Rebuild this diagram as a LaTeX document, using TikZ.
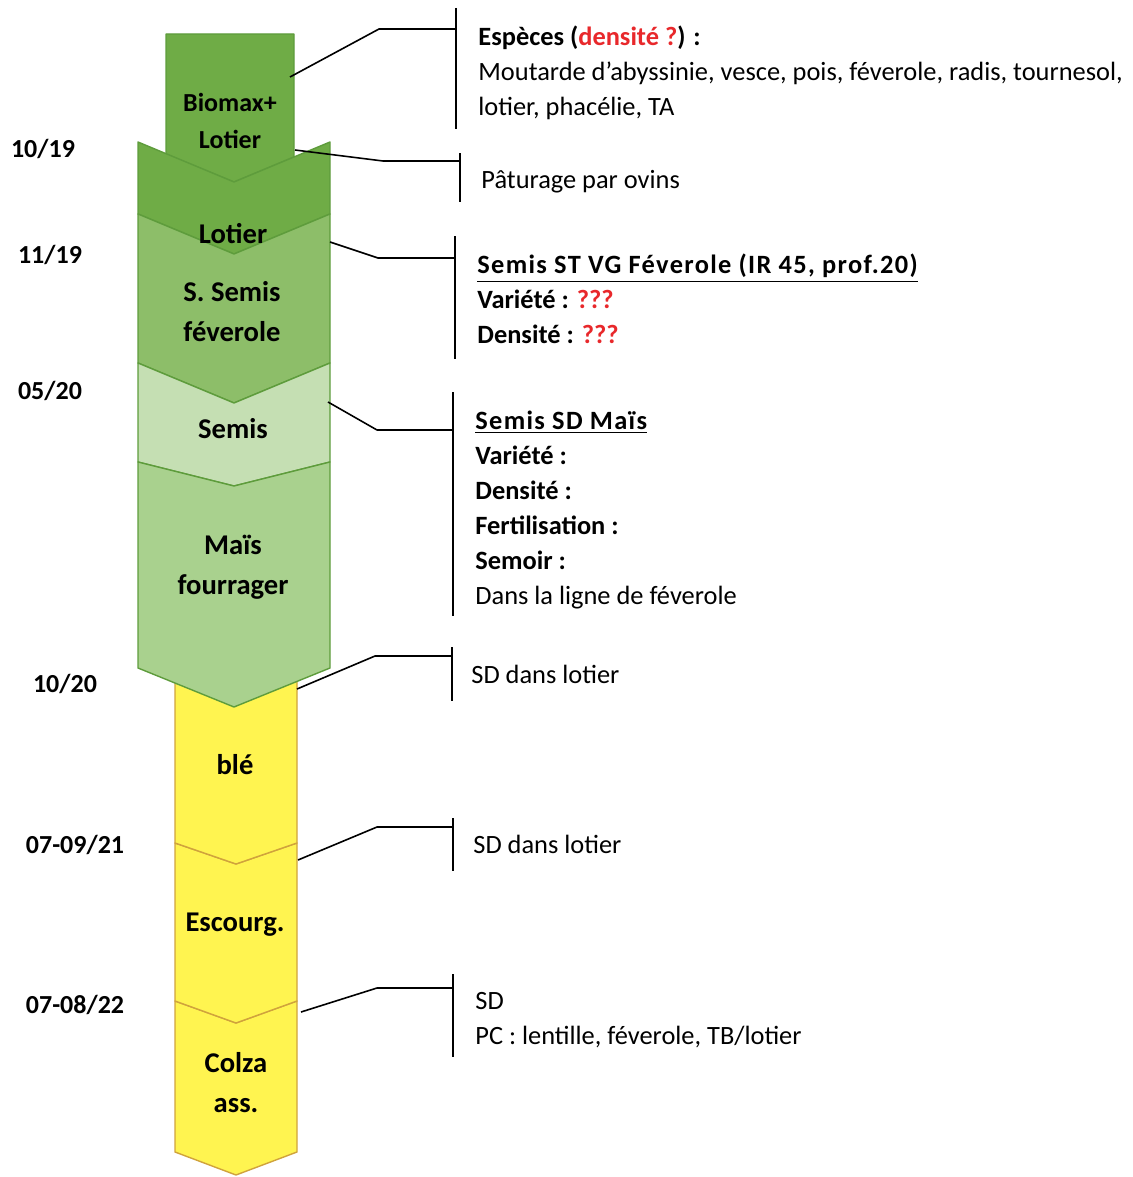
\documentclass[tikz,border=0pt]{standalone}
\usepackage{fontspec}
\setmainfont{Carlito}
\usepackage{tikz}
\usepackage{xcolor}
\definecolor{greenA}{HTML}{6FAC46}
\definecolor{greenB}{HTML}{8DBE69}
\definecolor{greenC}{HTML}{C5DFB3}
\definecolor{greenD}{HTML}{A9D18E}
\definecolor{cropline}{HTML}{5E9C3C}
\definecolor{cereal}{HTML}{FFF450}
\definecolor{cerealline}{HTML}{D0A33C}
\definecolor{notered}{HTML}{E8282B}
\newcommand{\headline}[1]{{\bfseries\addfontfeature{LetterSpace=5}\underline{#1}}}

\begin{document}
\begin{tikzpicture}[
  x=0.5pt, y=-0.5pt,
  crop/.style={draw=cropline, line width=0.7pt, line join=round},
  cerealbox/.style={draw=cerealline, fill=cereal, line width=0.7pt, line join=round},
  lbl/.style={font=\bfseries\fontsize{14.3}{20}\selectfont, align=center, inner sep=0pt},
  date/.style={font=\bfseries\fontsize{13}{16}\selectfont, inner sep=0pt},
  note/.style={font=\fontsize{13.2}{17.5}\selectfont, align=left, anchor=north west, inner sep=0pt, execute at begin node=\strut},
  lead/.style={line width=0.8pt, line join=round},
  bar/.style={line width=1.4pt}
]
\useasboundingbox (0,0) rectangle (1133,1177);

% cereales (jaune) sous le mais
\draw[cerealbox] (175,1001) -- (236,1023) -- (297,1001) -- (297,1152) -- (236,1175) -- (175,1152) -- cycle;
\draw[cerealbox] (175,843) -- (236,864) -- (297,843) -- (297,1001) -- (236,1023) -- (175,1001) -- cycle;
\draw[cerealbox] (175,670) -- (297,670) -- (297,843) -- (236,864) -- (175,843) -- cycle;

% couverts et mais (vert)
\draw[crop, fill=greenA] (166,34) -- (294,34) -- (294,157) -- (234,182) -- (166,154) -- cycle;
\draw[crop, fill=greenA] (138,142) -- (234,182) -- (330,142) -- (330,214) -- (234,254) -- (138,214) -- cycle;
\draw[crop, fill=greenB] (138,214) -- (234,254) -- (330,214) -- (330,363) -- (234,403) -- (138,363) -- cycle;
\draw[crop, fill=greenC] (138,363) -- (234,403) -- (330,363) -- (330,462) -- (234,486) -- (138,462) -- cycle;
\draw[crop, fill=greenD] (138,462) -- (234,486) -- (330,462) -- (330,668) -- (234,707) -- (138,668) -- cycle;

\node[lbl, font=\bfseries\fontsize{13}{18.5}\selectfont] (biomax) at (230,121) {Biomax+\\Lotier};
\node[lbl] (lotier) at (233,234) {Lotier};
\node[lbl] (ssemis) at (232,312) {S. Semis\\féverole};
\node[lbl] (semis) at (233,429) {Semis};
\node[lbl] (mais) at (233,567) {Maïs\\fourrager};
\node[lbl] (ble) at (235,765) {blé};
\node[lbl] (escourg) at (235,925) {Escourg.};
\node[lbl] (colza) at (236,1083) {Colza\\ass.};

% dates
\node[date] (d1) at (43,149) {10/19};
\node[date] (d2) at (50,255) {11/19};
\node[date] (d3) at (50,391) {05/20};
\node[date] (d4) at (65,684) {10/20};
\node[date] (d5) at (75,845) {07-09/21};
\node[date] (d6) at (75,1005) {07-08/22};

% renvois
\coordinate (s1) at (290,77);   \coordinate (k1) at (379,29);  \coordinate (t1) at (456,8);   \coordinate (b1) at (456,129);
\coordinate (s2) at (295,150);  \coordinate (k2) at (383,161); \coordinate (t2) at (460,153); \coordinate (b2) at (460,202);
\coordinate (s3) at (330,242);  \coordinate (k3) at (378,258); \coordinate (t3) at (455,236); \coordinate (b3) at (455,359);
\coordinate (s4) at (328,402);  \coordinate (k4) at (377,430); \coordinate (t4) at (453,392); \coordinate (b4) at (453,616);
\coordinate (s5) at (297,689);  \coordinate (k5) at (375,656); \coordinate (t5) at (452,647); \coordinate (b5) at (452,701);
\coordinate (s6) at (298,860);  \coordinate (k6) at (377,827); \coordinate (t6) at (453,818); \coordinate (b6) at (453,871);
\coordinate (s7) at (301,1012); \coordinate (k7) at (377,988); \coordinate (t7) at (453,974); \coordinate (b7) at (453,1057);

\draw[lead] (s1) -- (k1) -- (k1 -| t1);
\draw[lead] (s2) -- (k2) -- (k2 -| t2);
\draw[lead] (s3) -- (k3) -- (k3 -| t3);
\draw[lead] (s4) -- (k4) -- (k4 -| t4);
\draw[lead] (s5) -- (k5) -- (k5 -| t5);
\draw[lead] (s6) -- (k6) -- (k6 -| t6);
\draw[lead] (s7) -- (k7) -- (k7 -| t7);
\draw[bar] (t1) -- (b1);
\draw[bar] (t2) -- (b2);
\draw[bar] (t3) -- (b3);
\draw[bar] (t4) -- (b4);
\draw[bar] (t5) -- (b5);
\draw[bar] (t6) -- (b6);
\draw[bar] (t7) -- (b7);

\node[note] (especes) at (478,26) {\textbf{Espèces (\textcolor{notered}{densité ?}) :}\\Moutarde d’abyssinie, vesce, pois, féverole, radis, tournesol,\\lotier, phacélie, TA};
\node[note] (paturage) at (481,163.5) {Pâturage par ovins};
\node[note] (feverole) at (477,254) {\headline{Semis ST VG Féverole (IR 45, prof.20)}\\\textbf{Variété : \textcolor{notered}{???}}\\\textbf{Densité : \textcolor{notered}{???}}};
\node[note] (semismais) at (475,410.5) {\headline{Semis SD Maïs}\\\textbf{Variété :}\\\textbf{Densité :}\\\textbf{Fertilisation :}\\\textbf{Semoir :}\\Dans la ligne de féverole};
\node[note] (sdble) at (471,658.5) {SD dans lotier};
\node[note] (sdescourg) at (473,828.5) {SD dans lotier};
\node[note] (sdcolza) at (475,992) {SD\\PC : lentille, féverole, TB/lotier};
\end{tikzpicture}
\end{document}
